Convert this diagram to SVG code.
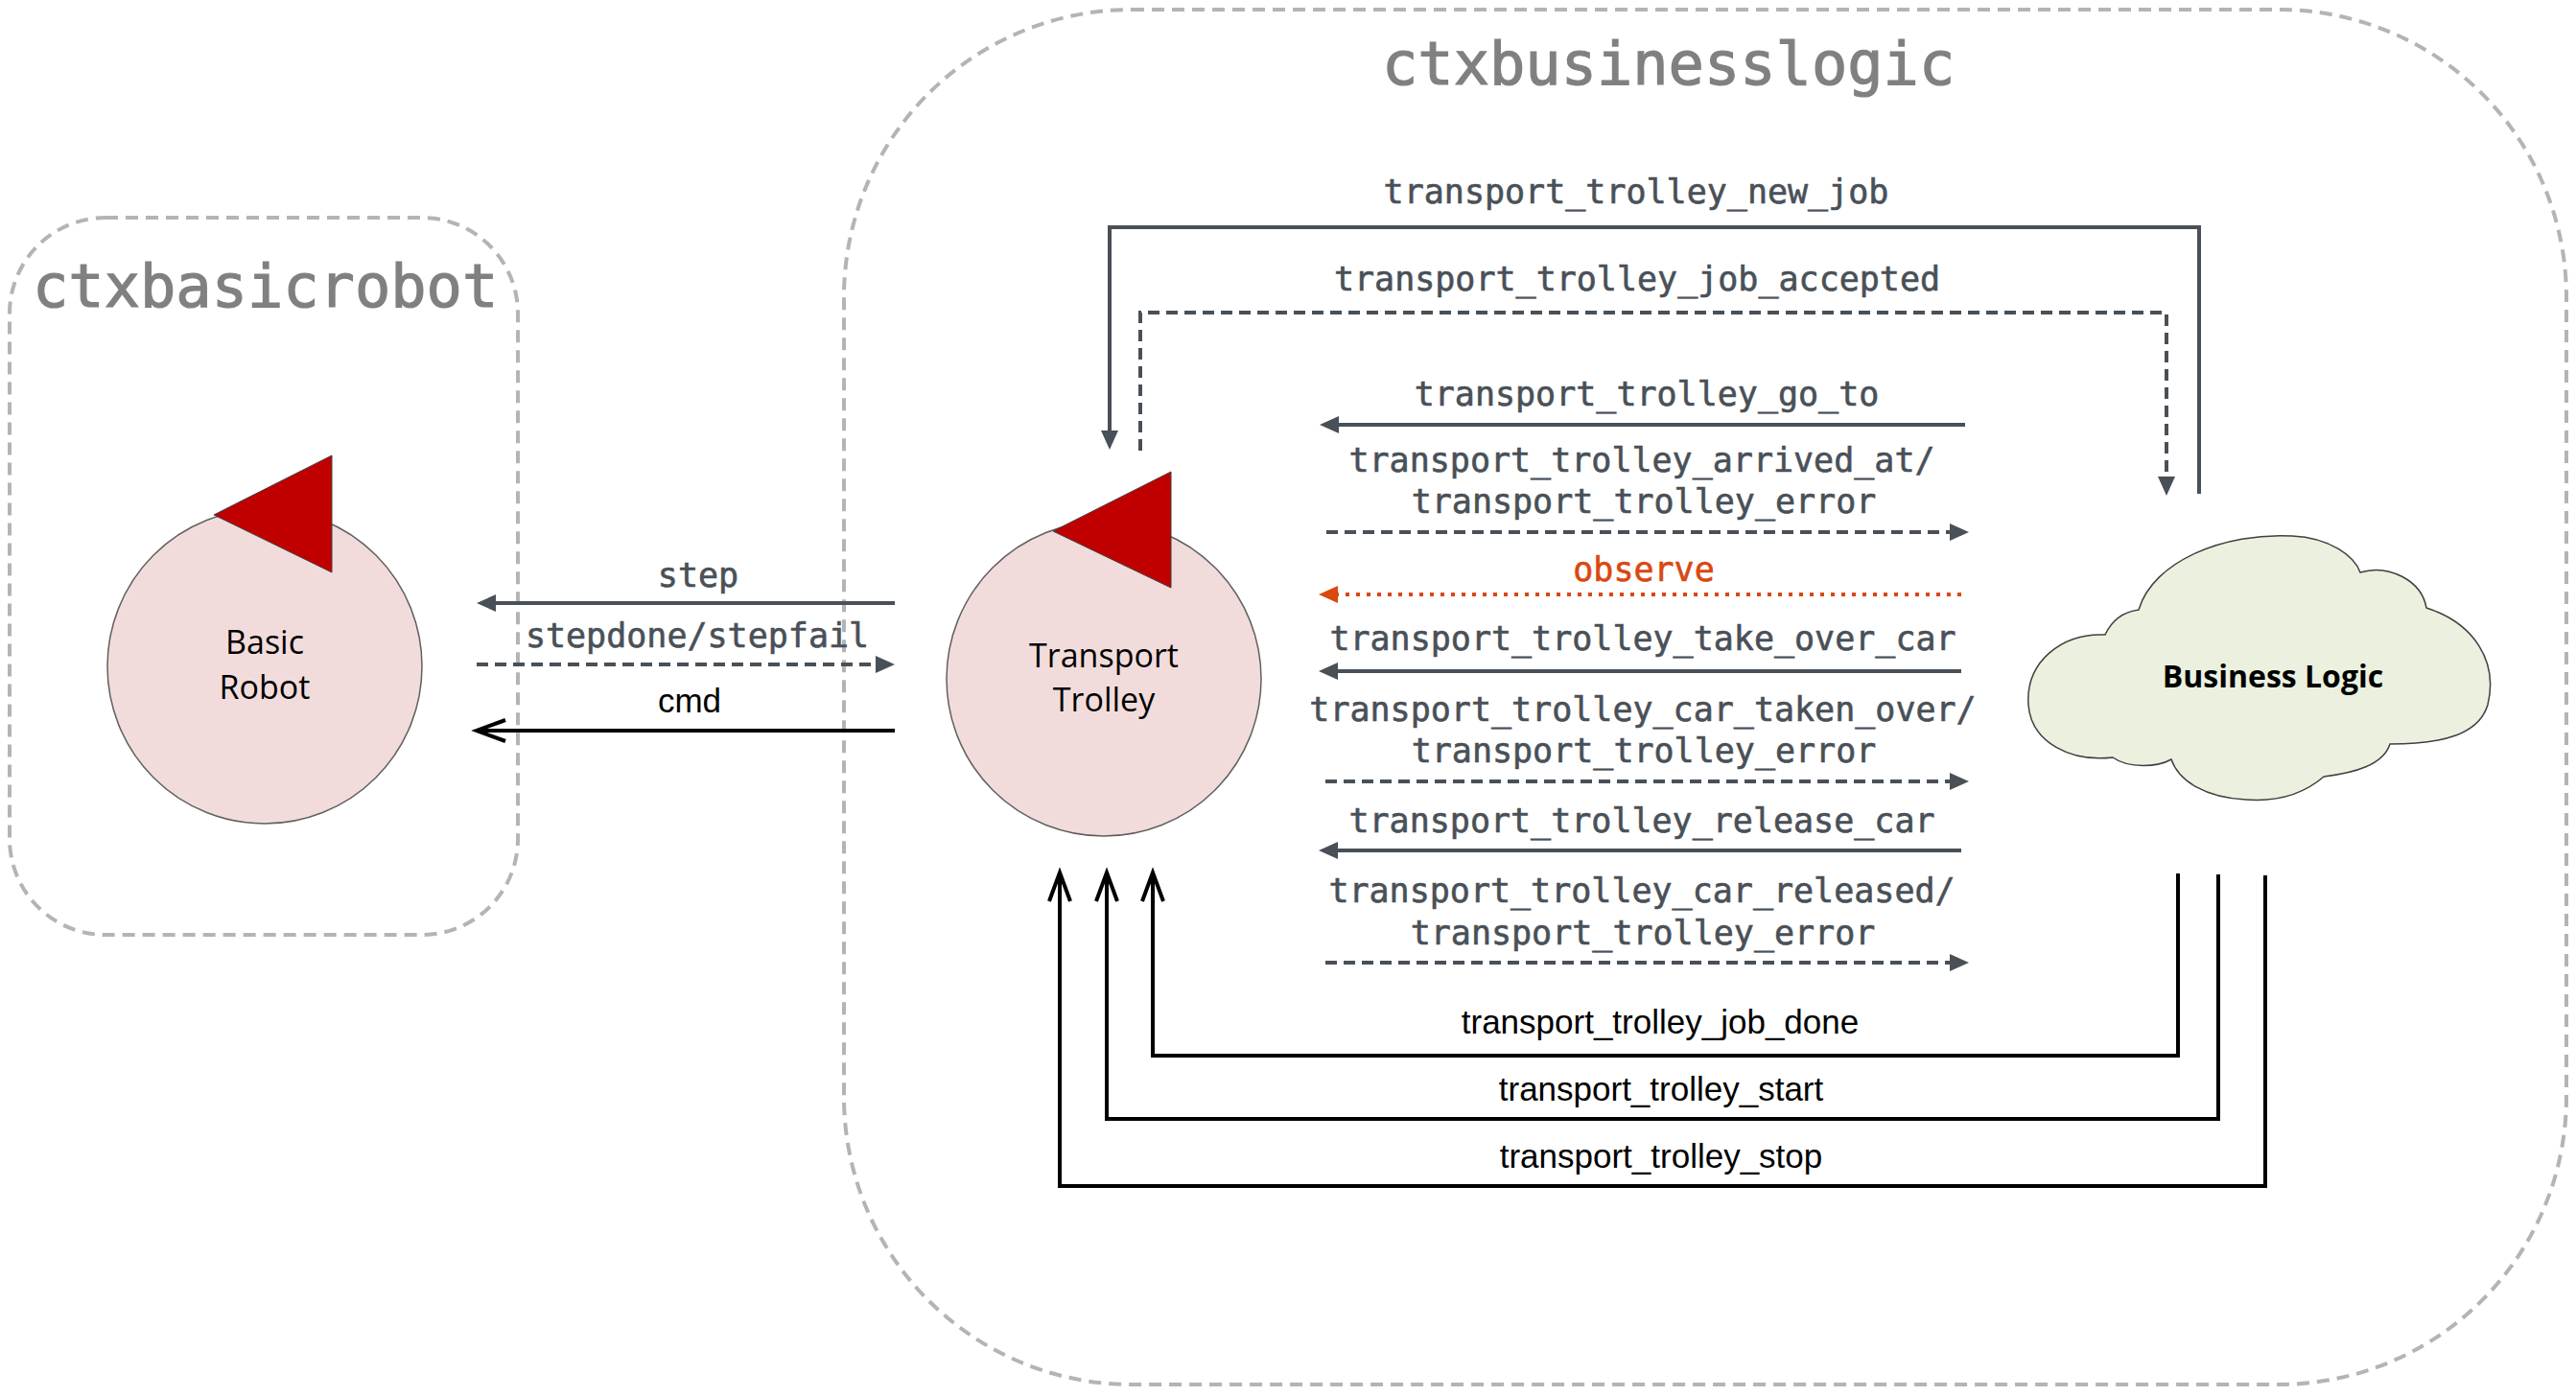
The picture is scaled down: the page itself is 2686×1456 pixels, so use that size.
<svg xmlns="http://www.w3.org/2000/svg" width="2686" height="1456" viewBox="0 0 2686 1456">
<style>
.ctx{fill:none;stroke:#b4b4b4;stroke-width:4;stroke-dasharray:13 8}
.title{font-family:"DejaVu Sans Mono",monospace;font-size:62px;fill:#808080;stroke:#808080;stroke-width:1.2}
.lbl{font-family:"DejaVu Sans Mono",monospace;font-size:35px;fill:#495057;stroke:#495057;stroke-width:0.6;text-anchor:middle}
.obs{fill:#d9480f;stroke:#d9480f}
.sans{font-family:"Liberation Sans",Arial,sans-serif;font-size:35px;fill:#000;text-anchor:middle}
.node{font-family:"Open Sans",sans-serif;font-size:34px;fill:#000;text-anchor:middle}
.bold{font-weight:bold;font-size:32px}
.actor{fill:#f2dcdb;stroke:#606060;stroke-width:1.5}
.flag{fill:#c00000;stroke:#404040;stroke-width:1}
.slate{fill:none;stroke:#495057;stroke-width:4}
.dash{stroke-dasharray:12 7}
.dot{fill:none;stroke:#d9480f;stroke-width:4;stroke-dasharray:4 7}
.blk{fill:none;stroke:#000;stroke-width:4}
</style>
<defs>
<marker id="aS" markerUnits="userSpaceOnUse" markerWidth="22" markerHeight="20" refX="11" refY="9" orient="auto" overflow="visible"><path d="M0,0 L20,9 L0,18 Z" fill="#495057"/></marker>
<marker id="aO" markerUnits="userSpaceOnUse" markerWidth="22" markerHeight="20" refX="11" refY="9" orient="auto" overflow="visible"><path d="M0,0 L20,9 L0,18 Z" fill="#d9480f"/></marker>
<marker id="aB" markerUnits="userSpaceOnUse" markerWidth="32" markerHeight="24" refX="30" refY="11" orient="auto" overflow="visible"><path d="M0,0 L30,11 L0,22" fill="none" stroke="#000" stroke-width="4"/></marker>
</defs>
<rect width="2686" height="1456" fill="#fff"/>

<g id="ctxbasicrobot">
<rect class="ctx" x="10" y="227" width="530" height="748" rx="100" ry="100"/>
<text class="title" x="34" y="320">ctxbasicrobot</text>
</g>
<g id="ctxbusinesslogic">
<rect class="ctx" x="880" y="10" width="1796" height="1434" rx="300" ry="300"/>
<text class="title" x="1441" y="88">ctxbusinesslogic</text>
</g>

<g id="basicrobot">
<circle class="actor" cx="276" cy="695" r="164"/>
<polygon class="flag" points="223,537 346,475 346,597"/>
<text class="node" x="276" y="682">Basic</text>
<text class="node" x="276" y="729">Robot</text>
</g>

<g id="transporttrolley">
<circle class="actor" cx="1151" cy="708" r="164"/>
<polygon class="flag" points="1098,554 1221,492 1221,613"/>
<text class="node" x="1151" y="696">Transport</text>
<text class="node" x="1151" y="742">Trolley</text>
</g>

<g id="businesslogic">
<path d="M2230 636 C2245 585 2320 555 2390 559 C2430 561 2455 580 2461 597 C2490 588 2525 605 2530 634 C2580 650 2605 690 2594 735 C2585 765 2550 776 2492 776 C2485 798 2455 806 2423 810 C2400 830 2370 836 2342 834 C2300 832 2272 815 2264 792 C2250 800 2220 802 2203 790 C2160 795 2118 775 2115 735 C2112 690 2150 660 2195 662 C2203 645 2215 638 2230 636 Z" fill="#ebf1de" stroke="#404040" stroke-width="1.5"/>
<text class="node bold" x="2370" y="717">Business Logic</text>
</g>

<g id="connectors">
<line class="slate" x1="933" y1="629" x2="506" y2="629" marker-end="url(#aS)"/>
<text class="lbl" x="728" y="612">step</text>
<line class="slate dash" x1="497" y1="693" x2="924" y2="693" marker-end="url(#aS)"/>
<text class="lbl" x="727" y="675">stepdone/stepfail</text>
<line class="blk" x1="933" y1="762" x2="497" y2="762" marker-end="url(#aB)"/>
<text class="sans" x="719" y="743">cmd</text>

<polyline class="slate" points="2293,515 2293,237 1157,237 1157,460" marker-end="url(#aS)"/>
<text class="lbl" x="1706" y="212">transport_trolley_new_job</text>
<polyline class="slate dash" points="1189,470 1189,326 2259,326 2259,508" marker-end="url(#aS)"/>
<text class="lbl" x="1707" y="303">transport_trolley_job_accepted</text>

<line class="slate" x1="2049" y1="443" x2="1385" y2="443" marker-end="url(#aS)"/>
<text class="lbl" x="1717" y="423">transport_trolley_go_to</text>
<line class="slate dash" x1="1383" y1="555" x2="2044" y2="555" marker-end="url(#aS)"/>
<text class="lbl" x="1712" y="492">transport_trolley_arrived_at/</text>
<text class="lbl" x="1714" y="535">transport_trolley_error</text>

<line class="dot" x1="2045" y1="620" x2="1384" y2="620" marker-end="url(#aO)"/>
<text class="lbl obs" x="1714" y="606">observe</text>

<line class="slate" x1="2045" y1="700" x2="1384" y2="700" marker-end="url(#aS)"/>
<text class="lbl" x="1713" y="678">transport_trolley_take_over_car</text>
<line class="slate dash" x1="1382" y1="815" x2="2044" y2="815" marker-end="url(#aS)"/>
<text class="lbl" x="1713" y="752">transport_trolley_car_taken_over/</text>
<text class="lbl" x="1714" y="795">transport_trolley_error</text>

<line class="slate" x1="2045" y1="887" x2="1384" y2="887" marker-end="url(#aS)"/>
<text class="lbl" x="1712" y="868">transport_trolley_release_car</text>
<line class="slate dash" x1="1382" y1="1004" x2="2044" y2="1004" marker-end="url(#aS)"/>
<text class="lbl" x="1712" y="941">transport_trolley_car_released/</text>
<text class="lbl" x="1713" y="985">transport_trolley_error</text>

<polyline class="blk" points="2271,911 2271,1101 1202,1101 1202,910" marker-end="url(#aB)"/>
<text class="sans" x="1731" y="1078">transport_trolley_job_done</text>
<polyline class="blk" points="2313,912 2313,1167 1154,1167 1154,910" marker-end="url(#aB)"/>
<text class="sans" x="1732" y="1148">transport_trolley_start</text>
<polyline class="blk" points="2362,913 2362,1237 1105,1237 1105,910" marker-end="url(#aB)"/>
<text class="sans" x="1732" y="1218">transport_trolley_stop</text>
</g>
</svg>
